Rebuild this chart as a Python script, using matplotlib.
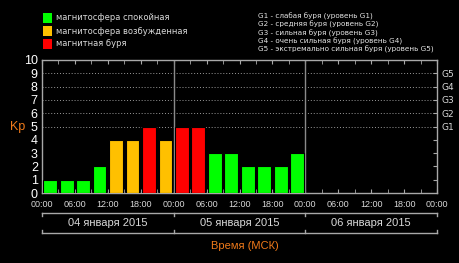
import matplotlib
matplotlib.use("Agg")
import matplotlib.pyplot as plt
from matplotlib.patches import Rectangle

# ---- data ----
kp_values = [1, 1, 1, 2, 4, 4, 5, 4, 5, 5, 3, 3, 2, 2, 2, 3]
bar_hours = [1.5 + 3 * i for i in range(len(kp_values))]
time_ticks = [0, 6, 12, 18, 24, 30, 36, 42, 48, 54, 60, 66, 72]
time_labels = ["00:00", "06:00", "12:00", "18:00"] * 3 + ["00:00"]
days = ["04 января 2015", "05 января 2015", "06 января 2015"]
day_starts = [0, 24, 48]
g_levels = [5, 6, 7, 8, 9]
g_labels = ["G1", "G2", "G3", "G4", "G5"]
legend_labels = ["магнитосфера спокойная", "магнитосфера возбужденная", "магнитная буря"]
legend_colors = ["#00ff00", "#ffc000", "#ff0000"]
g_legend = ["G1 - слабая буря (уровень G1)",
            "G2 - средняя буря (уровень G2)",
            "G3 - сильная буря (уровень G3)",
            "G4 - очень сильная буря (уровень G4)",
            "G5 - экстремально сильная буря (уровень G5)"]


def color_for(v):
    if v < 4:
        return legend_colors[0]
    if v < 5:
        return legend_colors[1]
    return legend_colors[2]


W, H = 460, 263
fig = plt.figure(figsize=(W / 100, H / 100), dpi=100, facecolor="black")
ax = fig.add_axes([42 / W, (H - 193) / H, 395 / W, 133 / H], facecolor="black")

spine_c = "#a8a8a8"
txt_c = "#d8d8d8"
orange = "#f07a1a"

ax.bar(bar_hours, kp_values, width=2.5, color=[color_for(v) for v in kp_values],
       edgecolor="black", linewidth=0.8, zorder=3)

ax.set_xlim(0, 72)
ax.set_ylim(0, 10)

for g in g_levels:
    ax.axhline(g, color="#9a9a9a", linestyle=(0, (1, 2)), linewidth=0.7, zorder=1)
for d in day_starts[1:]:
    ax.axvline(d, color="#8a8a8a", linewidth=1.0, zorder=2)

for s in ax.spines.values():
    s.set_color(spine_c)
    s.set_linewidth(1.0)

ax.set_xticks(time_ticks)
ax.set_xticklabels(time_labels, fontsize=6.5, color=txt_c, family="Liberation Sans")
ax.set_xticks(range(0, 73, 3), minor=True)
ax.tick_params(axis="x", which="both", direction="in", top=True, bottom=True,
               length=3, color=spine_c, pad=5)
ax.set_yticks(range(0, 11))
ax.set_yticklabels([str(i) for i in range(11)], fontsize=9, color="white",
                   family="Liberation Sans")
ax.tick_params(axis="y", which="both", length=0, pad=3)

ax2 = ax.twinx()
ax2.set_ylim(0, 10)
ax2.set_yticks(range(1, 10))
ax2.set_yticklabels(["" for _ in range(1, 5)] + g_labels, fontsize=6.5,
                    color=txt_c, family="DejaVu Sans")
ax2.tick_params(axis="y", direction="in", length=3, color=spine_c, pad=3)
for s in ax2.spines.values():
    s.set_visible(False)

# Day brackets
trans = ax.get_xaxis_transform()
y_top, y_bot, y_mid = -0.150, -0.300, -0.226
ax.plot([0, 72], [y_top, y_top], transform=trans, color=spine_c, lw=1.0, clip_on=False)
ax.plot([0, 72], [y_bot, y_bot], transform=trans, color=spine_c, lw=1.0, clip_on=False)
for d in day_starts + [72]:
    ax.plot([d, d], [y_top, y_top - 0.02], transform=trans, color=spine_c, lw=1.0, clip_on=False)
    ax.plot([d, d], [y_bot, y_bot + 0.02], transform=trans, color=spine_c, lw=1.0, clip_on=False)
for d, lab in zip(day_starts, days):
    ax.text(d + 12, y_mid, lab, transform=trans, ha="center", va="center",
            fontsize=8, color=txt_c, family="Liberation Sans")

fig.text(245 / W, 1 - 246 / H, "Время (МСК)", ha="center", va="center",
         fontsize=8, color=orange, family="Liberation Sans")
fig.text(18 / W, 1 - 127 / H, "Kp", ha="center", va="center",
         fontsize=9, color=orange, family="Liberation Sans")

# Legend
for i, (lab, c) in enumerate(zip(legend_labels, legend_colors)):
    yc = 18 + 13 * i
    fig.patches.append(Rectangle((43 / W, 1 - (yc + 5) / H), 9 / W, 10 / H,
                                 transform=fig.transFigure, facecolor=c,
                                 edgecolor="none"))
    fig.text(56 / W, 1 - yc / H, lab, ha="left", va="center", fontsize=6,
             color=txt_c, family="DejaVu Sans")

for i, lab in enumerate(g_legend):
    yc = 16.5 + 8.2 * i
    fig.text(258 / W, 1 - yc / H, lab, ha="left", va="center", fontsize=5.2,
             color="#e6e6e6", family="DejaVu Sans")

fig.savefig("out.png", dpi=100, facecolor="black")
